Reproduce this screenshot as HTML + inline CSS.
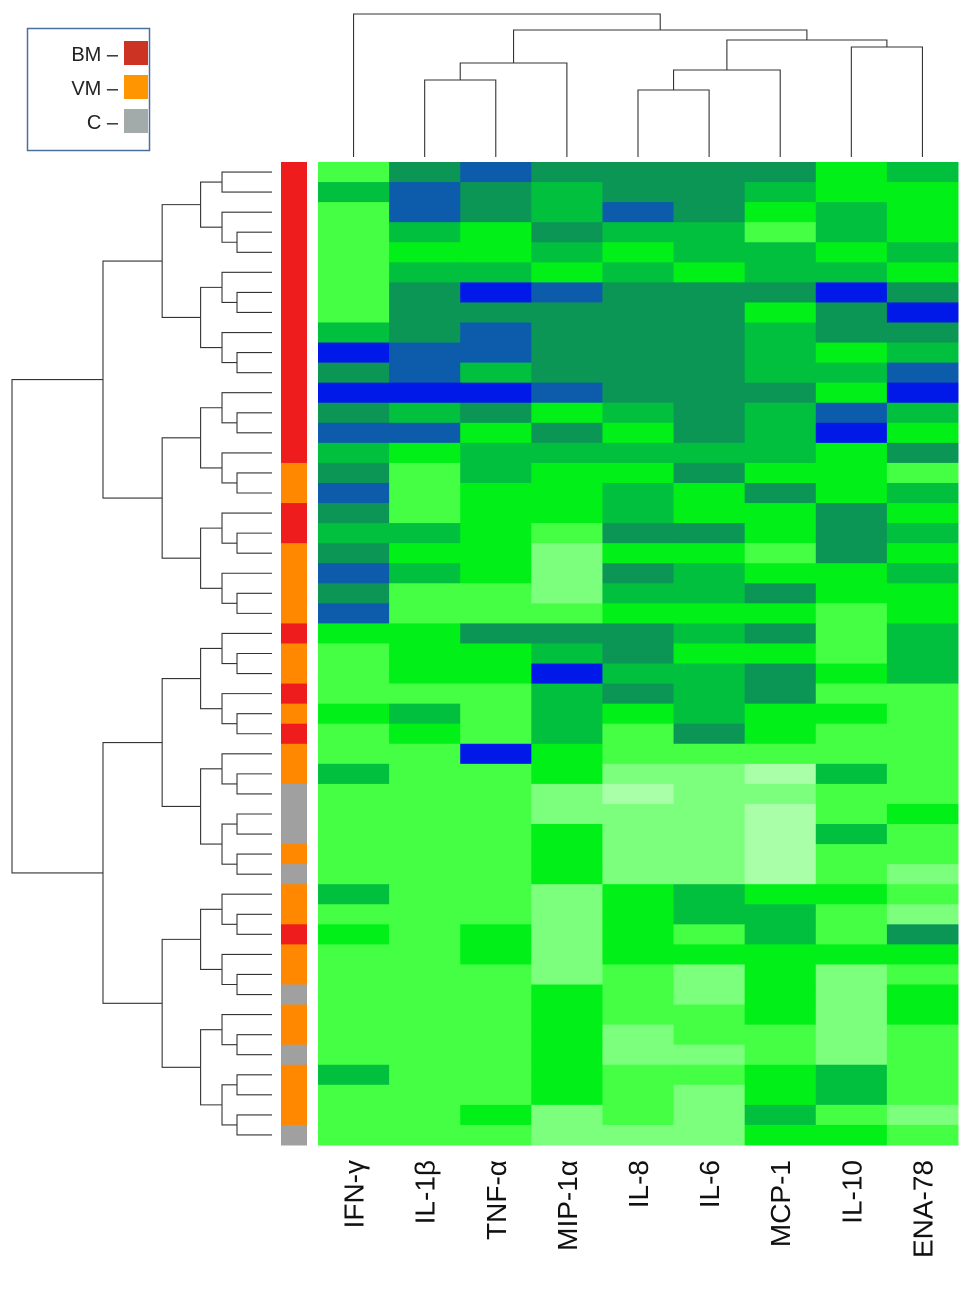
<!DOCTYPE html>
<html><head><meta charset="utf-8"><style>
body{margin:0;background:#fff;width:969px;height:1290px;overflow:hidden;font-family:"Liberation Sans",sans-serif}
svg{position:absolute;left:0;top:0}
</style></head><body>
<svg id="chart" width="969" height="1290">
<g id="legend">
<rect x="27.5" y="28.5" width="122" height="122" fill="#fff" stroke="#4a6fa0" stroke-width="1.5"/>
<text x="118" y="61" font-size="20" text-anchor="end" fill="#222">BM –</text>
<rect x="124" y="41" width="24" height="24" fill="#cc3322"/>
<text x="118" y="95" font-size="20" text-anchor="end" fill="#222">VM –</text>
<rect x="124" y="75" width="24" height="24" fill="#ff9500"/>
<text x="118" y="129" font-size="20" text-anchor="end" fill="#222">C –</text>
<rect x="124" y="109" width="24" height="24" fill="#a2aaaa"/>
</g>
</svg>
<script>
const columns=["IFN-γ","IL-1β","TNF-α","MIP-1α","IL-8","IL-6","MCP-1","IL-10","ENA-78"];
const rowGroups=["B","B","B","B","B","B","B","B","B","B","B","B","B","B","B","V","V","B","B","V","V","V","V","B","V","V","B","V","B","V","V","C","C","C","V","C","V","V","B","V","V","C","V","V","C","V","V","V","C"];
const values=[
[5,2,1,2,2,2,2,4,3],[3,1,2,3,2,2,3,4,4],[5,1,2,3,1,2,4,3,4],[5,3,4,2,3,3,5,3,4],
[5,4,4,3,4,3,3,4,3],[5,3,3,4,3,4,3,3,4],[5,2,0,1,2,2,2,0,2],[5,2,2,2,2,2,4,2,0],
[3,2,1,2,2,2,3,2,2],[0,1,1,2,2,2,3,4,3],[2,1,3,2,2,2,3,3,1],[0,0,0,1,2,2,2,4,0],
[2,3,2,4,3,2,3,1,3],[1,1,4,2,4,2,3,0,4],[3,4,3,3,3,3,3,4,2],[2,5,3,4,4,2,4,4,5],
[1,5,4,4,3,4,2,4,3],[2,5,4,4,3,4,4,2,4],[3,3,4,5,2,2,4,2,3],[2,4,4,6,4,4,5,2,4],
[1,3,4,6,2,3,4,4,3],[2,5,5,6,3,3,2,4,4],[1,5,5,5,4,4,4,5,4],[4,4,2,2,2,3,2,5,3],
[5,4,4,3,2,4,4,5,3],[5,4,4,0,3,3,2,4,3],[5,5,5,3,2,3,2,5,5],[4,3,5,3,4,3,4,4,5],
[5,4,5,3,5,2,4,5,5],[5,5,0,4,5,5,5,5,5],[3,5,5,4,6,6,7,3,5],[5,5,5,6,7,6,6,5,5],
[5,5,5,6,6,6,7,5,4],[5,5,5,4,6,6,7,3,5],[5,5,5,4,6,6,7,5,5],[5,5,5,4,6,6,7,5,6],
[3,5,5,6,4,3,4,4,5],[5,5,5,6,4,3,3,5,6],[4,5,4,6,4,5,3,5,2],[5,5,4,6,4,4,4,4,4],
[5,5,5,6,5,6,4,6,5],[5,5,5,4,5,6,4,6,4],[5,5,5,4,5,5,4,6,4],[5,5,5,4,6,5,5,6,5],
[5,5,5,4,6,6,5,6,5],[3,5,5,4,5,5,4,3,5],[5,5,5,4,5,6,4,3,5],[5,5,4,6,5,6,3,5,6],
[5,5,5,6,6,6,4,4,5]];
const topMerges=[[1,2,80],[-1,3,63],[4,5,90],[-3,6,70],[7,8,47],[-4,-5,40],[-2,-6,30],[0,-7,14]];
</script>
<script>
const NS="http://www.w3.org/2000/svg";
const svg=document.getElementById('chart');
const X0=318,X1=958,Y0=162,Y1=1145;
const cw=(X1-X0)/columns.length, rh=(Y1-Y0)/values.length;
const xAt=i=>X0+i*cw, yAt=r=>Y0+r*rh;
const pal=["#0018e8","#0d5cac","#0b9656","#00c03e","#00f018","#44ff44","#7cff7c","#a8ffa8"];
const gcol={B:"#ee1c1c",V:"#ff8800",C:"#a0a0a0"};
function mk(t,a){const e=document.createElementNS(NS,t);for(const k in a)e.setAttribute(k,a[k]);svg.appendChild(e);return e;}
values.forEach((row,r)=>{row.forEach((v,c)=>{
 const e=mk('rect',{x:xAt(c),y:yAt(r),width:cw+0.5,height:rh+0.5,fill:pal[v]});
 
 
});});
rowGroups.forEach((g,r)=>{
 const e=mk('rect',{x:281,y:yAt(r),width:26,height:rh+0.5,fill:gcol[g]});
 
 
});
columns.forEach((c,i)=>{
 const cx=xAt(i)+cw/2+10;
 const t=mk('text',{x:0,y:0,transform:`translate(${cx},1160) rotate(-90)`,'text-anchor':'end','font-size':'28',fill:'#111'});
 t.textContent=c;
 
 
});
const nodes=[];
const pos=k=>k>=0?{x:xAt(k)+cw/2,y:157}:nodes[-k-1];
let d="";
topMerges.forEach(m=>{const a=pos(m[0]),b=pos(m[1]);d+=`M${a.x},${a.y}V${m[2]}H${b.x}V${b.y}`;nodes.push({x:(a.x+b.x)/2,y:m[2]});});
const tp=mk('path',{d:d,fill:'none',stroke:'#333','stroke-width':1.1});


let ld="";
function node(lo,hi,x){
 if(hi-lo===1)return {x:272,y:yAt(lo)+rh/2};
 const mid=lo===0&&hi===values.length?23:Math.floor((lo+hi)/2);
 const nx=x+(272-x)*((hi-lo)>8?0.35:0.3);
 const a=node(lo,mid,nx),b=node(mid,hi,nx);
 ld+=`M${a.x},${a.y}H${x}V${b.y}H${b.x}`;
 return {x:x,y:(a.y+b.y)/2};
}
node(0,values.length,12);
const lp=mk('path',{d:ld,fill:'none',stroke:'#333','stroke-width':1.1});


svg.appendChild(document.getElementById('legend'));
</script>
</body></html>
